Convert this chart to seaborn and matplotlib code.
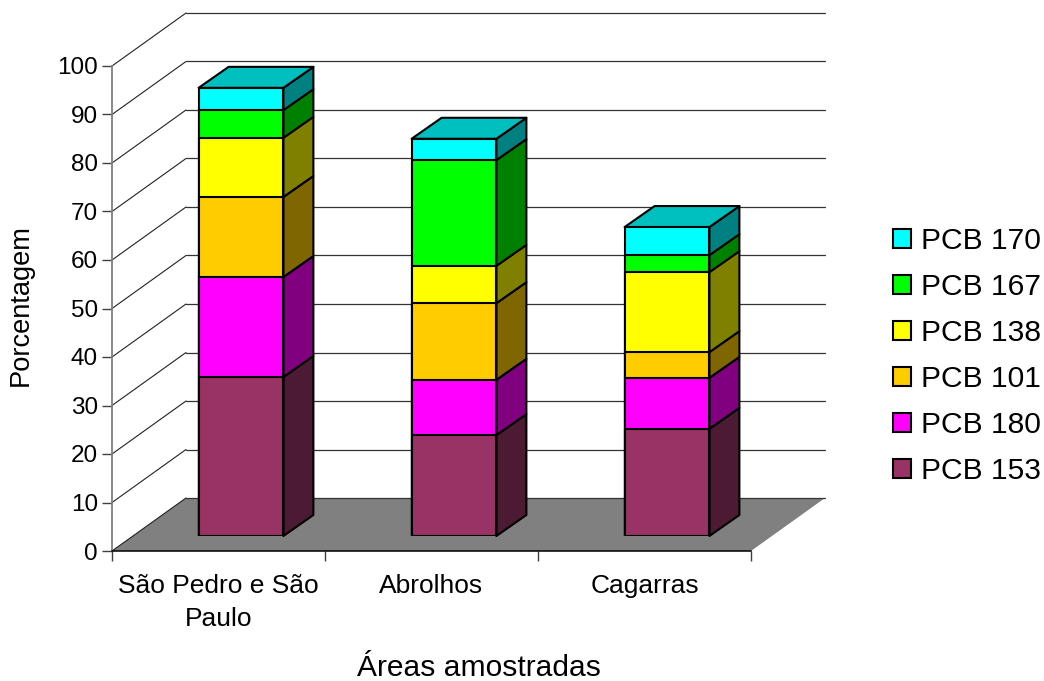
import numpy as np
import pandas as pd
import matplotlib
matplotlib.use("Agg")
import matplotlib.pyplot as plt
from matplotlib.patches import Patch, Polygon
import seaborn as sns

areas = ["São Pedro e São\nPaulo", "Abrolhos", "Cagarras"]
series_names = ["PCB 153", "PCB 180", "PCB 101", "PCB 138", "PCB 167", "PCB 170"]
pcb153 = [32.8, 20.8, 22.1]
pcb180 = [20.6, 11.4, 10.5]
pcb101 = [16.5, 15.8, 5.3]
pcb138 = [12.2, 7.7, 16.5]
pcb167 = [5.7, 21.8, 3.5]
pcb170 = [4.6, 4.4, 5.8]
colors = ["#993366", "#FF00FF", "#FFCC00", "#FFFF00", "#00FF00", "#00FFFF"]

W, H = 1044, 681
sns.set_theme(style="white")
plt.rcParams["font.family"] = ["Liberation Sans", "DejaVu Sans"]
plt.rcParams["text.color"] = "black"
plt.rcParams["xtick.color"] = "black"
plt.rcParams["ytick.color"] = "black"

table = np.array([pcb153, pcb180, pcb101, pcb138, pcb167, pcb170])
tops = table.cumsum(axis=0)
bottoms = tops - table

fig = plt.figure(figsize=(W / 100, H / 100), dpi=100, facecolor="white")


def axes_box(left, right, top, bottom):
    return [left / W, 1 - bottom / H, (right - left) / W, (bottom - top) / H]


# Front plane of the box: axis lines, ticks and tick labels
ax = fig.add_axes(axes_box(112, 751, 66, 551))
ax.set_xlim(-0.5, 2.5)
ax.set_ylim(0, 100)
ax.set_facecolor("none")

# Depth of the box and of the bars, in data units of each axis
box_dx, box_dy = 74 / 213, 53 / 4.85
bar_dx, bar_dy = 30 / 213, 21 / 4.85
bar_width = 0.398
edge_width = 1.5

floor = Polygon(
    [(-0.5, 0), (2.5, 0), (2.5 + box_dx, box_dy), (-0.5 + box_dx, box_dy)],
    closed=True, facecolor="#808080", edgecolor="none", clip_on=False, zorder=1,
)
ax.add_patch(floor)
for level in np.arange(0, 101, 10):
    ax.plot([-0.5, -0.5 + box_dx], [level, level + box_dy], color="#222222",
            lw=0.8, clip_on=False, zorder=2)
    ax.plot([-0.5 + box_dx, 2.5 + box_dx], [level + box_dy] * 2, color="#333333",
            lw=0.9, clip_on=False, zorder=2)

for name in ["top", "right"]:
    ax.spines[name].set_visible(False)
ax.spines["left"].set_color("#808080")
ax.spines["left"].set_linewidth(1.3)
ax.spines["bottom"].set_color("black")
ax.spines["bottom"].set_linewidth(1.1)
ax.spines["bottom"].set_zorder(5)

ax.set_yticks(np.arange(0, 101, 10))
ax.tick_params(axis="y", length=7, width=1, color="#404040", labelsize=17.5, pad=3, left=True)
ax.set_xticks([-0.5, 0.5, 1.5, 2.5])
ax.set_xticklabels([])
ax.tick_params(axis="x", which="major", length=7.5, width=1, color="#404040", bottom=True)
ax.set_xticks([0, 1, 2], minor=True)
ax.set_xticklabels(areas, minor=True, fontsize=19, linespacing=1.5)
ax.tick_params(axis="x", which="minor", length=0, pad=16.5, bottom=False)

# Bars stand a little inside the box, so they get their own shifted axes
bars_ax = fig.add_axes(axes_box(134.5, 773.5, 51, 536))
bars_ax.set_facecolor("none")
bars_ax.axis("off")

frame = pd.DataFrame({"area": np.tile(areas, len(series_names)),
                      "series": np.repeat(series_names, len(areas)),
                      "top": tops.ravel()})

# Cumulative bars painted tallest first leave the visible stack segments
for i in range(len(series_names) - 1, -1, -1):
    sns.barplot(data=frame[frame["series"] == series_names[i]], x="area", y="top",
                color=colors[i], saturation=1, width=bar_width, edgecolor="black",
                linewidth=edge_width, ax=bars_ax, order=areas, zorder=4 + (5 - i) * 0.01)

bars_ax.set_xlim(-0.5, 2.5)
bars_ax.set_ylim(0, 100)
bars_ax.set_xlabel("")
bars_ax.set_ylabel("")


def shade(color, factor):
    return tuple(c * factor for c in matplotlib.colors.to_rgb(color))


# Right-hand faces of every segment and the lid of each stack
for c in range(len(areas)):
    xl, xr = c - bar_width / 2, c + bar_width / 2
    for i in range(len(series_names)):
        b, t = bottoms[i, c], tops[i, c]
        side = Polygon([(xr, b), (xr + bar_dx, b + bar_dy), (xr + bar_dx, t + bar_dy), (xr, t)],
                       closed=True, facecolor=shade(colors[i], 0.5), edgecolor="black",
                       linewidth=edge_width, clip_on=False, zorder=3, joinstyle="round")
        bars_ax.add_patch(side)
    t = tops[-1, c]
    lid = Polygon([(xl, t), (xr, t), (xr + bar_dx, t + bar_dy), (xl + bar_dx, t + bar_dy)],
                  closed=True, facecolor=shade(colors[-1], 0.75), edgecolor="black",
                  linewidth=edge_width, clip_on=False, zorder=3, joinstyle="round")
    bars_ax.add_patch(lid)

fig.text(479 / W, 1 - 668 / H, "Áreas amostradas", fontsize=21.6, ha="center", va="center")
fig.text(21 / W, 1 - 305 / H, "Porcentagem", fontsize=19.6, rotation=90, ha="center", va="center")

handles = [Patch(facecolor=colors[i], edgecolor="black", linewidth=edge_width, label=series_names[i])
           for i in range(len(series_names) - 1, -1, -1)]
fig.legend(handles=handles, loc="center left", bbox_to_anchor=(893 / W, 1 - 356 / H),
           frameon=False, fontsize=21.6, handlelength=0.6, handleheight=0.6,
           handletextpad=0.32, labelspacing=0.6, borderpad=0, borderaxespad=0)

fig.savefig("out.png", dpi=100, facecolor="white")
